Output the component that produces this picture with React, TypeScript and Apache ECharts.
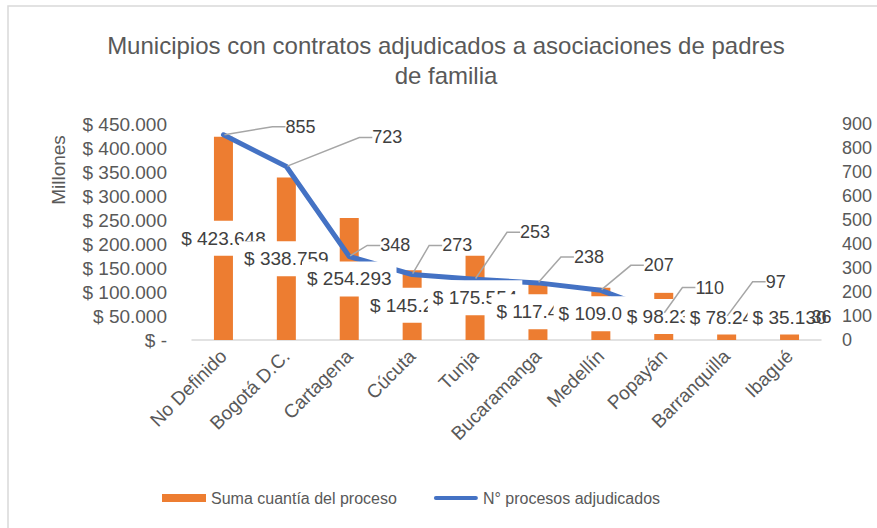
import React, { useEffect, useRef } from "react";
import * as echarts from "echarts";

const categories = [
  "No Definido",
  "Bogotá D.C.",
  "Cartagena",
  "Cúcuta",
  "Tunja",
  "Bucaramanga",
  "Medellín",
  "Popayán",
  "Barranquilla",
  "Ibagué",
];
// Suma cuantía del proceso (millones)
const amounts = [423648, 338759, 254293, 145210, 175554, 117430, 109050, 98230, 78240, 35130];
// N° procesos adjudicados
const processes = [855, 723, 348, 273, 253, 238, 207, 110, 97, 36];

const leftMax = 450000;
const leftInterval = 50000;
const rightMax = 900;
const rightInterval = 100;

const titleLines = ["Municipios con contratos adjudicados a asociaciones de padres", "de familia"];
const unitLabel = "Millones";
const barName = "Suma cuantía del proceso";
const lineName = "N° procesos adjudicados";

// label placement (offsets of the count labels from their points, px)
const lineLabelOffsets = [
  [77, -8], [101, -29], [46, -11], [45, -29], [60, -47],
  [51, -26], [58, -25], [46, -26], [49, -35], [32, -14],
];
const leaderShown = [true, true, true, true, true, true, true, true, true, false];

const FONT = "'Liberation Sans', Arial, sans-serif";
const GRAY = "#595959";
const DARK = "#404040";
const ORANGE = "#ED7D31";
const BLUE = "#4472C4";

const money = (v: number) =>
  v === 0 ? "$ -" : "$ " + String(v).replace(/\B(?=(\d{3})+(?!\d))/g, ".");

export default function App() {
  const ref = useRef<HTMLDivElement>(null);
  useEffect(() => {
    if (!ref.current) return;
    const chart = echarts.init(ref.current, null, { renderer: "svg" });
    chart.setOption({
      animation: false,
      backgroundColor: "#ffffff",
      textStyle: { fontFamily: FONT },
      graphic: [
        {
          type: "rect",
          shape: { x: 8, y: 6, width: 900, height: 600 },
          style: { fill: "none", stroke: "#d9d9d9", lineWidth: 1.5 },
          silent: true,
        },
        {
          type: "text",
          style: {
            text: titleLines[0],
            x: 446,
            y: 45,
            textAlign: "center",
            textVerticalAlign: "middle",
            fill: GRAY,
            font: `24px ${FONT}`,
          },
        },
        {
          type: "text",
          style: {
            text: titleLines[1],
            x: 446,
            y: 75,
            textAlign: "center",
            textVerticalAlign: "middle",
            fill: GRAY,
            font: `24px ${FONT}`,
          },
        },
        {
          type: "text",
          x: 58,
          y: 170,
          rotation: Math.PI / 2,
          style: {
            text: unitLabel,
            x: 0,
            y: 0,
            textAlign: "center",
            textVerticalAlign: "middle",
            fill: GRAY,
            font: `19px ${FONT}`,
          },
        },
      ],
      legend: {
        data: [
          { name: barName, icon: "rect" },
          {
            name: lineName,
            icon: "path://M0,0 L0,0 M2,2 L42,2 A2,2 0 0 1 42,6 L2,6 A2,2 0 0 1 2,2 Z M44,8 L44,8",
          },
        ],
        left: 157,
        top: 485,
        itemWidth: 44,
        itemHeight: 8,
        itemGap: 37,
        textStyle: { fontSize: 16, color: GRAY, fontFamily: FONT },
      },
      grid: { left: 192, right: 56, top: 124, bottom: 188, containLabel: false },
      xAxis: {
        type: "category",
        data: categories,
        axisLine: { show: true, lineStyle: { color: "#d9d9d9", width: 1.5 } },
        axisTick: { show: false },
        axisLabel: {
          interval: 0,
          rotate: 45,
          fontSize: 19,
          color: GRAY,
          margin: 13,
          fontFamily: FONT,
        },
      },
      yAxis: [
        {
          type: "value",
          min: 0,
          max: leftMax,
          interval: leftInterval,
          axisLine: { show: false },
          axisTick: { show: false },
          splitLine: { show: false },
          axisLabel: {
            formatter: (v: number) => money(v),
            fontSize: 19,
            color: GRAY,
            margin: 25,
            fontFamily: FONT,
          },
        },
        {
          type: "value",
          min: 0,
          max: rightMax,
          interval: rightInterval,
          position: "right",
          axisLine: { show: false },
          axisTick: { show: false },
          splitLine: { show: false },
          axisLabel: { fontSize: 18, color: GRAY, margin: 21, fontFamily: FONT },
        },
      ],
      series: [
        {
          name: barName,
          type: "bar",
          data: amounts,
          yAxisIndex: 0,
          barWidth: 19,
          barGap: "-100%",
          z: 2,
          itemStyle: { color: ORANGE },
        },
        {
          name: lineName,
          type: "line",
          data: processes,
          yAxisIndex: 1,
          z: 3,
          symbol: "none",
          lineStyle: { color: BLUE, width: 5, join: "round", cap: "round" },
          itemStyle: { color: BLUE },
        },
        {
          name: "etiquetas cuantía",
          type: "bar",
          data: amounts,
          yAxisIndex: 0,
          barWidth: 19,
          barGap: "-100%",
          z: 4,
          silent: true,
          itemStyle: { color: "transparent" },
          label: {
            show: true,
            position: "inside",
            formatter: (p: any) => money(p.value),
            color: DARK,
            fontSize: 19,
            lineHeight: 19,
            fontFamily: FONT,
            backgroundColor: "#ffffff",
            padding: [8, 5],
          },
          labelLayout: (p: any) => {
            const bottom = p.rect.y + p.rect.height;
            const cy = p.rect.y + p.rect.height / 2;
            return {
              x: p.rect.x + p.rect.width / 2,
              y: Math.min(cy, bottom - 23),
              align: "center",
              verticalAlign: "middle",
            };
          },
        },
        {
          name: "etiquetas procesos",
          type: "line",
          data: processes.map((v, i) =>
            leaderShown[i] ? v : { value: v, labelLine: { show: false } }
          ),
          yAxisIndex: 1,
          z: 5,
          silent: true,
          symbol: "circle",
          symbolSize: 2,
          showSymbol: true,
          lineStyle: { width: 0, opacity: 0 },
          itemStyle: { color: "transparent" },
          label: {
            show: true,
            position: "top",
            color: DARK,
            fontSize: 18,
            fontFamily: FONT,
          },
          labelLine: {
            show: true,
            length2: 13,
            lineStyle: { color: "#a6a6a6", width: 1.5 },
          },
          labelLayout: (p: any) => {
            const [ox, oy] = lineLabelOffsets[p.dataIndex];
            const cx = p.rect.x + p.rect.width / 2;
            const cy = p.rect.y + p.rect.height / 2;
            return { x: cx + ox, y: cy + oy, align: "center", verticalAlign: "middle" };
          },
        },
      ],
    });
    return () => chart.dispose();
  }, []);
  return (
    <div
      ref={ref}
      style={{ position: "absolute", left: 0, top: 0, width: 877, height: 528 }}
    />
  );
}
